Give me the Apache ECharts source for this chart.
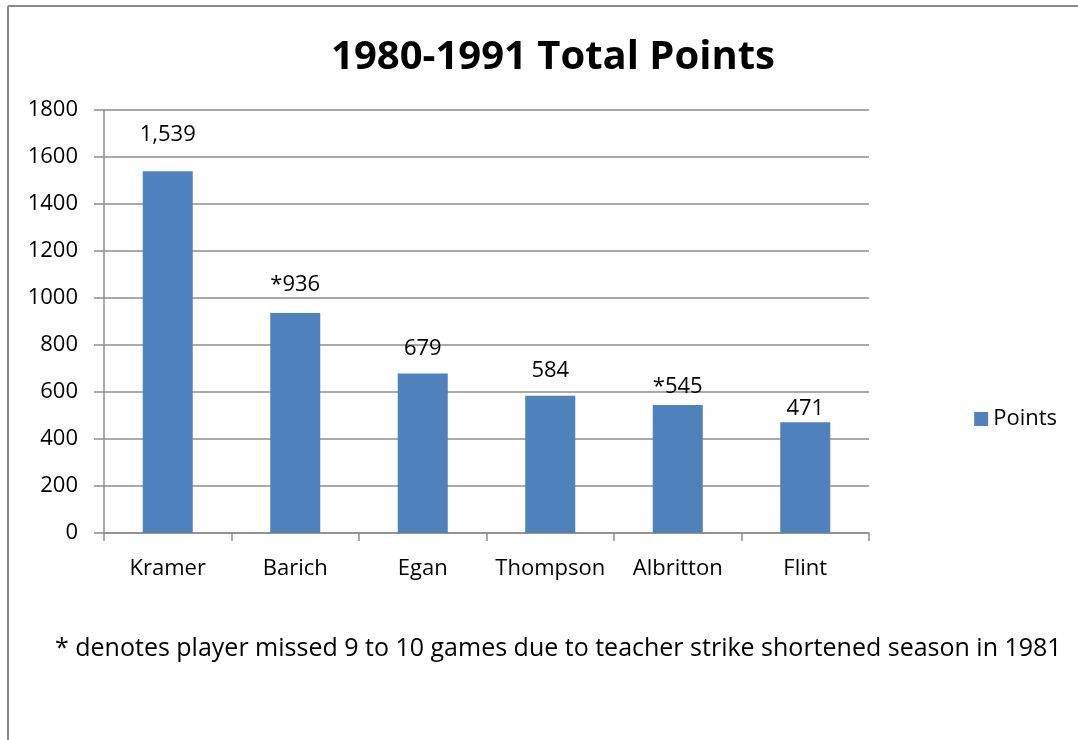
<!DOCTYPE html>
<html>
<head>
<meta charset="utf-8">
<title>1980-1991 Total Points</title>
<script src="https://cdn.jsdelivr.net/npm/echarts@6/dist/echarts.min.js"></script>
<style>
  html, body { margin: 0; padding: 0; background: #fff; }
  #chart { width: 1078px; height: 740px; }
</style>
</head>
<body>
<div id="chart"></div>
<script>
// data
var players = ['Kramer', 'Barich', 'Egan', 'Thompson', 'Albritton', 'Flint']
var points = [1539, 936, 679, 584, 545, 471]
var pointLabels = ['1,539', '*936', '679', '584', '*545', '471']
var yTicks = [0, 200, 400, 600, 800, 1000, 1200, 1400, 1600, 1800]
var footnote = '* denotes player missed 9 to 10 games due to teacher strike shortened season in 1981'

var FONT = '"Open Sans", "Liberation Sans", sans-serif'
var BAR = '#4f81bd'
var GRID = '#8c8c8c'

// labels sit at different heights above the bars in the original
var labelLift = [26, 17, 14, 14, 7, 3]

var chart = echarts.init(document.getElementById('chart'))

chart.setOption({
  backgroundColor: '#fff',
  animation: false,
  textStyle: { fontFamily: FONT },
  title: {
    text: '1980-1991 Total Points',
    left: 548,
    top: 33,
    textAlign: 'center',
    textStyle: { fontSize: 40, fontWeight: 'bold', color: '#000', fontFamily: FONT }
  },
  legend: {
    data: ['Points'],
    right: 16,
    top: 403,
    itemWidth: 14,
    itemHeight: 14,
    itemGap: 8,
    icon: 'rect',
    textStyle: { fontSize: 22, color: '#000', fontFamily: FONT }
  },
  grid: { left: 104, right: 209, top: 110, bottom: 207 },
  xAxis: {
    type: 'category',
    data: players,
    axisLine: { lineStyle: { color: GRID, width: 1.5 } },
    axisTick: { show: true, alignWithLabel: false, length: 8, lineStyle: { color: GRID, width: 1.5 } },
    axisLabel: { color: '#000', fontSize: 22, margin: 25, interval: 0, fontFamily: FONT }
  },
  yAxis: {
    type: 'value',
    min: yTicks[0],
    max: yTicks[yTicks.length - 1],
    interval: yTicks[1] - yTicks[0],
    axisLine: { show: true, lineStyle: { color: GRID, width: 1.5 } },
    axisTick: { show: true, length: 10, lineStyle: { color: GRID, width: 1.5 } },
    splitLine: { lineStyle: { color: GRID, width: 1.5 } },
    axisLabel: {
      color: '#000',
      fontSize: 22,
      margin: 26,
      fontFamily: FONT,
      formatter: function(v) { return String(v) }
    }
  },
  series: [{
    name: 'Points',
    type: 'bar',
    barWidth: 50,
    itemStyle: { color: BAR },
    data: points.map(function(v, i) {
      return {
        value: v,
        label: {
          show: true,
          position: 'top',
          distance: labelLift[i],
          formatter: pointLabels[i],
          color: '#000',
          fontSize: 22,
          fontFamily: FONT
        }
      }
    })
  }],
  graphic: [
    { type: 'line', shape: { x1: 8, y1: 6, x2: 1078, y2: 6 }, style: { stroke: '#8a8a8a', lineWidth: 2 } },
    { type: 'line', shape: { x1: 8, y1: 6, x2: 8, y2: 740 }, style: { stroke: '#8a8a8a', lineWidth: 2 } },
    {
      type: 'text',
      left: 55,
      top: 636,
      style: { text: footnote, fontSize: 25, fill: '#000', fontFamily: FONT }
    }
  ]
})
</script>
</body>
</html>
